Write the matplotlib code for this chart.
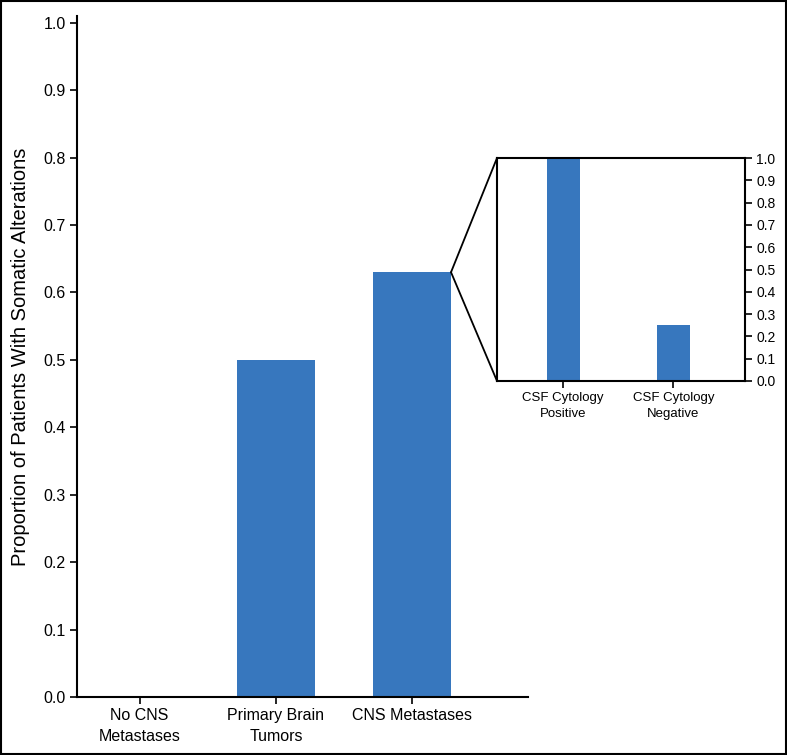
import matplotlib
matplotlib.use("Agg")
import matplotlib.pyplot as plt
from matplotlib.patches import ConnectionPatch, Rectangle

plt.rcParams['font.family'] = ['Liberation Sans', 'DejaVu Sans']

categories = ["No CNS\nMetastases", "Primary Brain\nTumors", "CNS Metastases"]
values = [0.0, 0.50, 0.63]
inset_categories = ["CSF Cytology\nPositive", "CSF Cytology\nNegative"]
inset_values = [1.0, 0.25]
yticks = [0.0, 0.1, 0.2, 0.3, 0.4, 0.5, 0.6, 0.7, 0.8, 0.9, 1.0]
ylabel = "Proportion of Patients With Somatic Alterations"

blue = "#3777BE"
W, H = 787, 755
fig = plt.figure(figsize=(W / 100, H / 100), dpi=100)

# figure border
fig.patches.append(Rectangle((0.001, 0.001), 0.998, 0.998, transform=fig.transFigure,
                             fill=False, edgecolor="black", linewidth=1.5))

ax = fig.add_axes([77 / W, 58 / H, (528 - 77) / W, (697 - 16) / H])
bw = 0.57
x = list(range(len(categories)))
ax.bar(x, values, width=bw, color=blue)
ax.set_xlim(-0.46, 2.85)
ax.set_ylim(0, 1.01)
ax.set_yticks(yticks)
ax.set_yticklabels([f"{v:.1f}" for v in yticks], fontsize=11.5)
ax.set_xticks(x)
ax.set_xticklabels(categories, fontsize=11.5, linespacing=1.45)
ax.spines['top'].set_visible(False)
ax.spines['right'].set_visible(False)
ax.spines['left'].set_linewidth(1.5)
ax.spines['bottom'].set_linewidth(1.5)
ax.tick_params(axis='both', length=5, width=1.2, pad=3)
ax.set_ylabel(ylabel, fontsize=14.5, labelpad=10)

# inset
axi = fig.add_axes([497 / W, (H - 381) / H, (745 - 497) / W, (381 - 158) / H])
xi = list(range(len(inset_categories)))
axi.bar(xi, inset_values, width=0.3, color=blue)
axi.set_xlim(-0.6, 1.65)
axi.set_ylim(0, 1.0)
axi.set_yticks(yticks)
axi.set_yticklabels([f"{v:.1f}" for v in yticks], fontsize=10)
axi.yaxis.tick_right()
axi.set_xticks(xi)
axi.set_xticklabels(inset_categories, fontsize=9.5, linespacing=1.45)
for s in axi.spines.values():
    s.set_linewidth(1.5)
axi.tick_params(axis='both', length=5, width=1.2, pad=3)

# connector lines from top-right corner of CNS bar to inset left corners
for yy in (1, 0):
    con = ConnectionPatch(xyA=(2 + bw / 2, values[2]), coordsA=ax.transData,
                          xyB=(0, yy), coordsB=axi.transAxes,
                          color="black", linewidth=1.3)
    fig.add_artist(con)

fig.savefig("out.png", dpi=100)
